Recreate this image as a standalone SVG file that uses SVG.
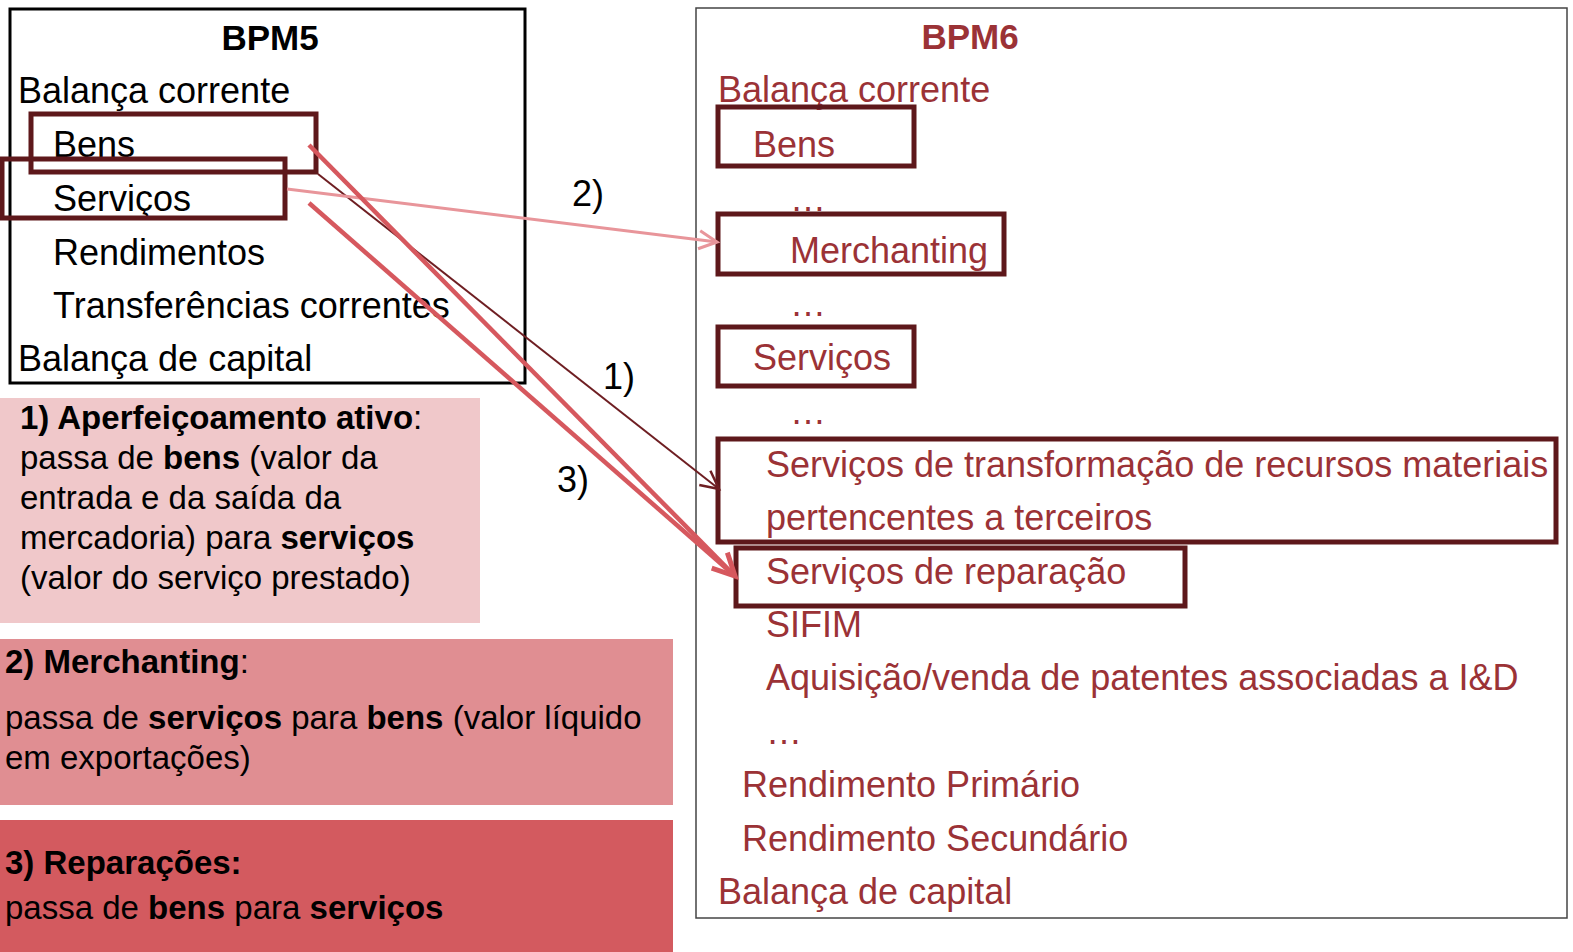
<svg xmlns="http://www.w3.org/2000/svg" width="1573" height="952" viewBox="0 0 1573 952">
<defs>
<style>
text{font-family:"Liberation Sans",Arial,sans-serif;font-size:36px}
.k{fill:#000}
.r{fill:#9B3236}
.b{font-weight:bold}
.h{font-size:35px}
.lg{font-size:33px;fill:#000}
.box{fill:none;stroke:#5E181B;stroke-width:5}
</style>
<marker id="a1" markerUnits="userSpaceOnUse" markerWidth="30" markerHeight="30" viewBox="-22 -15 26 30" refX="0" refY="0" orient="auto">
<path d="M-18,-9 L0,0 L-18,9" fill="none" stroke="#6E1E22" stroke-width="2.5"/>
</marker>
<marker id="a2" markerUnits="userSpaceOnUse" markerWidth="30" markerHeight="30" viewBox="-22 -15 26 30" refX="0" refY="0" orient="auto">
<path d="M-18,-9 L0,0 L-18,9" fill="none" stroke="#E8959A" stroke-width="3"/>
</marker>
<marker id="a3" markerUnits="userSpaceOnUse" markerWidth="34" markerHeight="34" viewBox="-26 -17 30 34" refX="0" refY="0" orient="auto">
<path d="M-22,-11 L0,0 L-22,11" fill="none" stroke="#D6585E" stroke-width="5"/>
</marker>
</defs>
<rect width="1573" height="952" fill="#fff"/>

<g id="bpm5">
<rect x="10" y="9" width="515" height="374" fill="none" stroke="#000" stroke-width="3"/>
<text class="k b h" x="270" y="50" text-anchor="middle">BPM5</text>
<text class="k" x="18" y="103">Balança corrente</text>
<text class="k" x="53" y="157">Bens</text>
<text class="k" x="53" y="211">Serviços</text>
<text class="k" x="53" y="265">Rendimentos</text>
<text class="k" x="53" y="318">Transferências correntes</text>
<text class="k" x="18" y="371">Balança de capital</text>
</g>
<g id="bpm5-bens"><rect class="box" x="31" y="114" width="285" height="58"/></g>
<g id="bpm5-servicos"><rect class="box" x="2" y="159" width="283" height="59"/></g>

<g id="bpm6">
<rect x="696" y="8" width="871" height="910" fill="none" stroke="#444" stroke-width="1.5"/>
<text class="r b h" x="970" y="49" text-anchor="middle">BPM6</text>
<text class="r" x="718" y="102">Balança corrente</text>
<text class="r" x="790" y="211">…</text>
<text class="r" x="790" y="316">…</text>
<text class="r" x="790" y="424">…</text>
<text class="r" x="766" y="637">SIFIM</text>
<text class="r" x="766" y="690">Aquisição/venda de patentes associadas a I&amp;D</text>
<text class="r" x="766" y="744">…</text>
<text class="r" x="742" y="797">Rendimento Primário</text>
<text class="r" x="742" y="851">Rendimento Secundário</text>
<text class="r" x="718" y="904">Balança de capital</text>
</g>
<g id="bpm6-bens"><rect class="box" x="718" y="107" width="196" height="59"/><text class="r" x="753" y="157">Bens</text></g>
<g id="bpm6-merchanting"><rect class="box" x="718" y="214" width="286" height="60"/><text class="r" x="790" y="263">Merchanting</text></g>
<g id="bpm6-servicos"><rect class="box" x="718" y="327" width="196" height="59"/><text class="r" x="753" y="370">Serviços</text></g>
<g id="bpm6-transformacao"><rect class="box" x="718" y="439" width="838" height="103"/>
<text class="r" x="766" y="477">Serviços de transformação de recursos materiais</text>
<text class="r" x="766" y="530">pertencentes a terceiros</text></g>
<g id="bpm6-reparacao"><rect class="box" x="736" y="548" width="449" height="58"/><text class="r" x="766" y="584">Serviços de reparação</text></g>

<g id="connectors">
<line x1="318" y1="174" x2="719" y2="489" stroke="#6E1E22" stroke-width="2" marker-end="url(#a1)"/>
<line x1="287" y1="189" x2="717" y2="242" stroke="#E8959A" stroke-width="3" marker-end="url(#a2)"/>
<line x1="309" y1="145" x2="735" y2="576" stroke="#D6585E" stroke-width="4.5" marker-end="url(#a3)"/>
<line x1="309" y1="203" x2="735" y2="576" stroke="#D6585E" stroke-width="4.5"/>
<text class="k" x="572" y="206">2)</text>
<text class="k" x="603" y="389">1)</text>
<text class="k" x="557" y="492">3)</text>
</g>

<g id="legend1">
<rect x="0" y="398" width="480" height="225" fill="#F0C8CA"/>
<text class="lg" x="20" y="429"><tspan font-weight="bold">1) Aperfeiçoamento ativo</tspan>:</text>
<text class="lg" x="20" y="469">passa de <tspan font-weight="bold">bens</tspan> (valor da</text>
<text class="lg" x="20" y="509">entrada e da saída da</text>
<text class="lg" x="20" y="549">mercadoria) para <tspan font-weight="bold">serviços</tspan></text>
<text class="lg" x="20" y="589" font-size="34">(valor do serviço prestado)</text>
</g>
<g id="legend2">
<rect x="0" y="639" width="673" height="166" fill="#E08E92"/>
<text class="lg" x="5" y="673"><tspan font-weight="bold">2) Merchanting</tspan>:</text>
<text class="lg" x="5" y="729">passa de <tspan font-weight="bold">serviços</tspan> para <tspan font-weight="bold">bens</tspan> (valor líquido</text>
<text class="lg" x="5" y="769">em exportações)</text>
</g>
<g id="legend3">
<rect x="0" y="820" width="673" height="132" fill="#D35A5F"/>
<text class="lg b" x="5" y="874">3) Reparações:</text>
<text class="lg" x="5" y="919">passa de <tspan font-weight="bold">bens</tspan> para <tspan font-weight="bold">serviços</tspan></text>
</g>
</svg>
